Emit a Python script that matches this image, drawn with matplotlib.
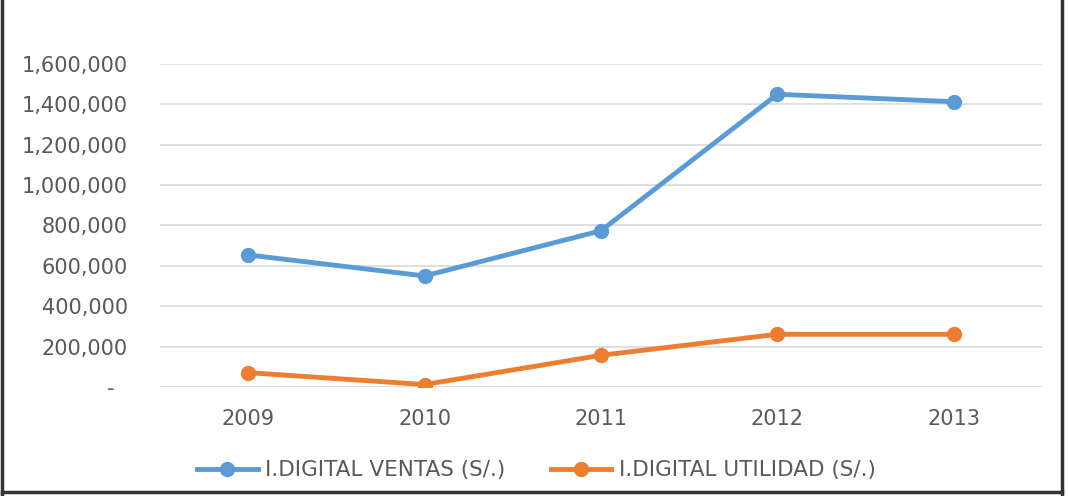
import matplotlib.pyplot as plt
from matplotlib.lines import Line2D
from matplotlib.ticker import FuncFormatter

years = ['2009', '2010', '2011', '2012', '2013']
ventas = [654000, 550000, 774000, 1450000, 1413000]
utilidad = [71000, 12000, 157000, 261000, 261000]
series_names = ['I.DIGITAL VENTAS (S/.)', 'I.DIGITAL UTILIDAD (S/.)']

blue = '#5B9BD5'
orange = '#ED7D31'
gray = '#595959'

plt.rcParams['font.family'] = ['DejaVu Sans']

fig = plt.figure(figsize=(10.69, 4.96), dpi=100)
ax = fig.add_axes([0.1497, 0.2198, 0.825, 0.6512])

x = range(len(years))
ax.plot(x, ventas, color=blue, lw=3.5, marker='o', ms=10, label=series_names[0], zorder=3)
ax.plot(x, utilidad, color=orange, lw=3.5, marker='o', ms=10, label=series_names[1], zorder=3)

ax.set_xlim(-0.5, len(years) - 0.5)
ax.set_ylim(0, 1600000)
ax.set_yticks(range(0, 1600001, 200000))
ax.yaxis.set_major_formatter(FuncFormatter(lambda v, p: '-  ' if v == 0 else f'{int(v):,}'))
ax.set_xticks(list(x))
ax.set_xticklabels(years)
ax.grid(axis='y', color='#D9D9D9', lw=1.2)
ax.set_axisbelow(True)
for s in ax.spines.values():
    s.set_visible(False)
ax.tick_params(length=0, labelsize=15, colors=gray)
ax.tick_params(axis='y', pad=23)
ax.tick_params(axis='x', pad=16)

handles = [Line2D([], [], color=blue, lw=3.5, marker='o', ms=10),
           Line2D([], [], color=orange, lw=3.5, marker='o', ms=10)]
fig.legend(handles, series_names, loc='center', bbox_to_anchor=(0.502, 0.052), ncol=2,
           frameon=False, fontsize=15.5, labelcolor=gray, handlelength=2.8,
           handletextpad=0.37, columnspacing=2.1)

# border around the chart (no top edge)
for xs, ys in [([0.002, 0.002], [0, 1]), ([0.9935, 0.9935], [0, 1]), ([0.002, 0.9935], [0.008, 0.008])]:
    fig.add_artist(Line2D(xs, ys, color='#333333', lw=2.5, transform=fig.transFigure))

fig.savefig('out.png', dpi=100)
